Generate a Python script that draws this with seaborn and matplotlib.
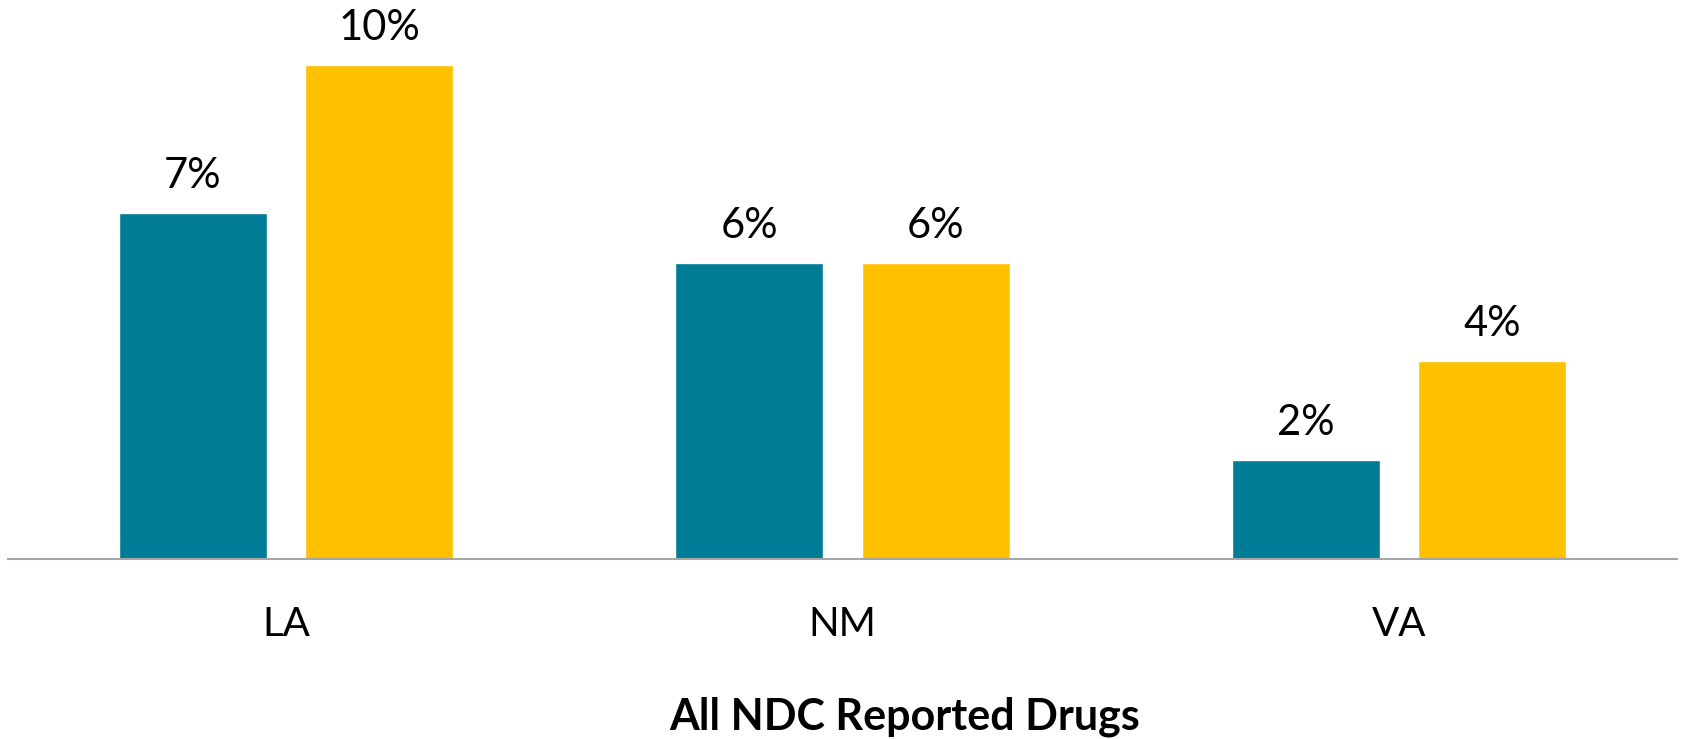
import numpy as np
import pandas as pd
import matplotlib
matplotlib.use("Agg")
import matplotlib.pyplot as plt
import seaborn as sns

# values (percent)
states = ['LA', 'NM', 'VA']
series_names = ['Series 1', 'Series 2']
series_1 = [7, 6, 2]
series_2 = [10, 6, 4]
colors = ['#007C96', '#FFC000']
x_title = 'All NDC Reported Drugs'

df = pd.DataFrame({
    'state': states * 2,
    'series': [series_names[0]] * len(states) + [series_names[1]] * len(states),
    'pct': series_1 + series_2,
})

sns.set_style('white')
plt.rcParams['font.family'] = ['Lato', 'DejaVu Sans']
plt.rcParams['text.color'] = 'black'
plt.rcParams['xtick.color'] = 'black'
plt.rcParams['axes.labelcolor'] = 'black'

fig = plt.figure(figsize=(16.83, 7.39), dpi=100)
ax = fig.add_axes([8 / 1683, 180 / 739, 1669 / 1683, 559 / 739])

sns.barplot(data=df, x='state', y='pct', hue='series', palette=colors,
            width=0.67, gap=0.206, saturation=1, legend=False, ax=ax)

for c in ax.containers:
    ax.bar_label(c, labels=[f'{v:.0f}%' for v in c.datavalues],
                 padding=13, fontsize=30, color='black')

ax.set_xlim(-0.5, 2.5)
ax.set_ylim(0, 11.32)
ax.set_yticks([])
ax.set_ylabel('')
for s in ['top', 'right', 'left']:
    ax.spines[s].set_visible(False)
ax.spines['bottom'].set_color('#A6A6A6')
ax.spines['bottom'].set_linewidth(1.5)
ax.tick_params(axis='x', length=0, pad=34, labelsize=29, labelcolor='black')

ax.set_xlabel(x_title, fontsize=31, fontweight='bold', color='black')
ax.xaxis.set_label_coords(0.537, -0.318)
ax.xaxis.label.set_va('bottom')

fig.savefig('out.png', dpi=100)
